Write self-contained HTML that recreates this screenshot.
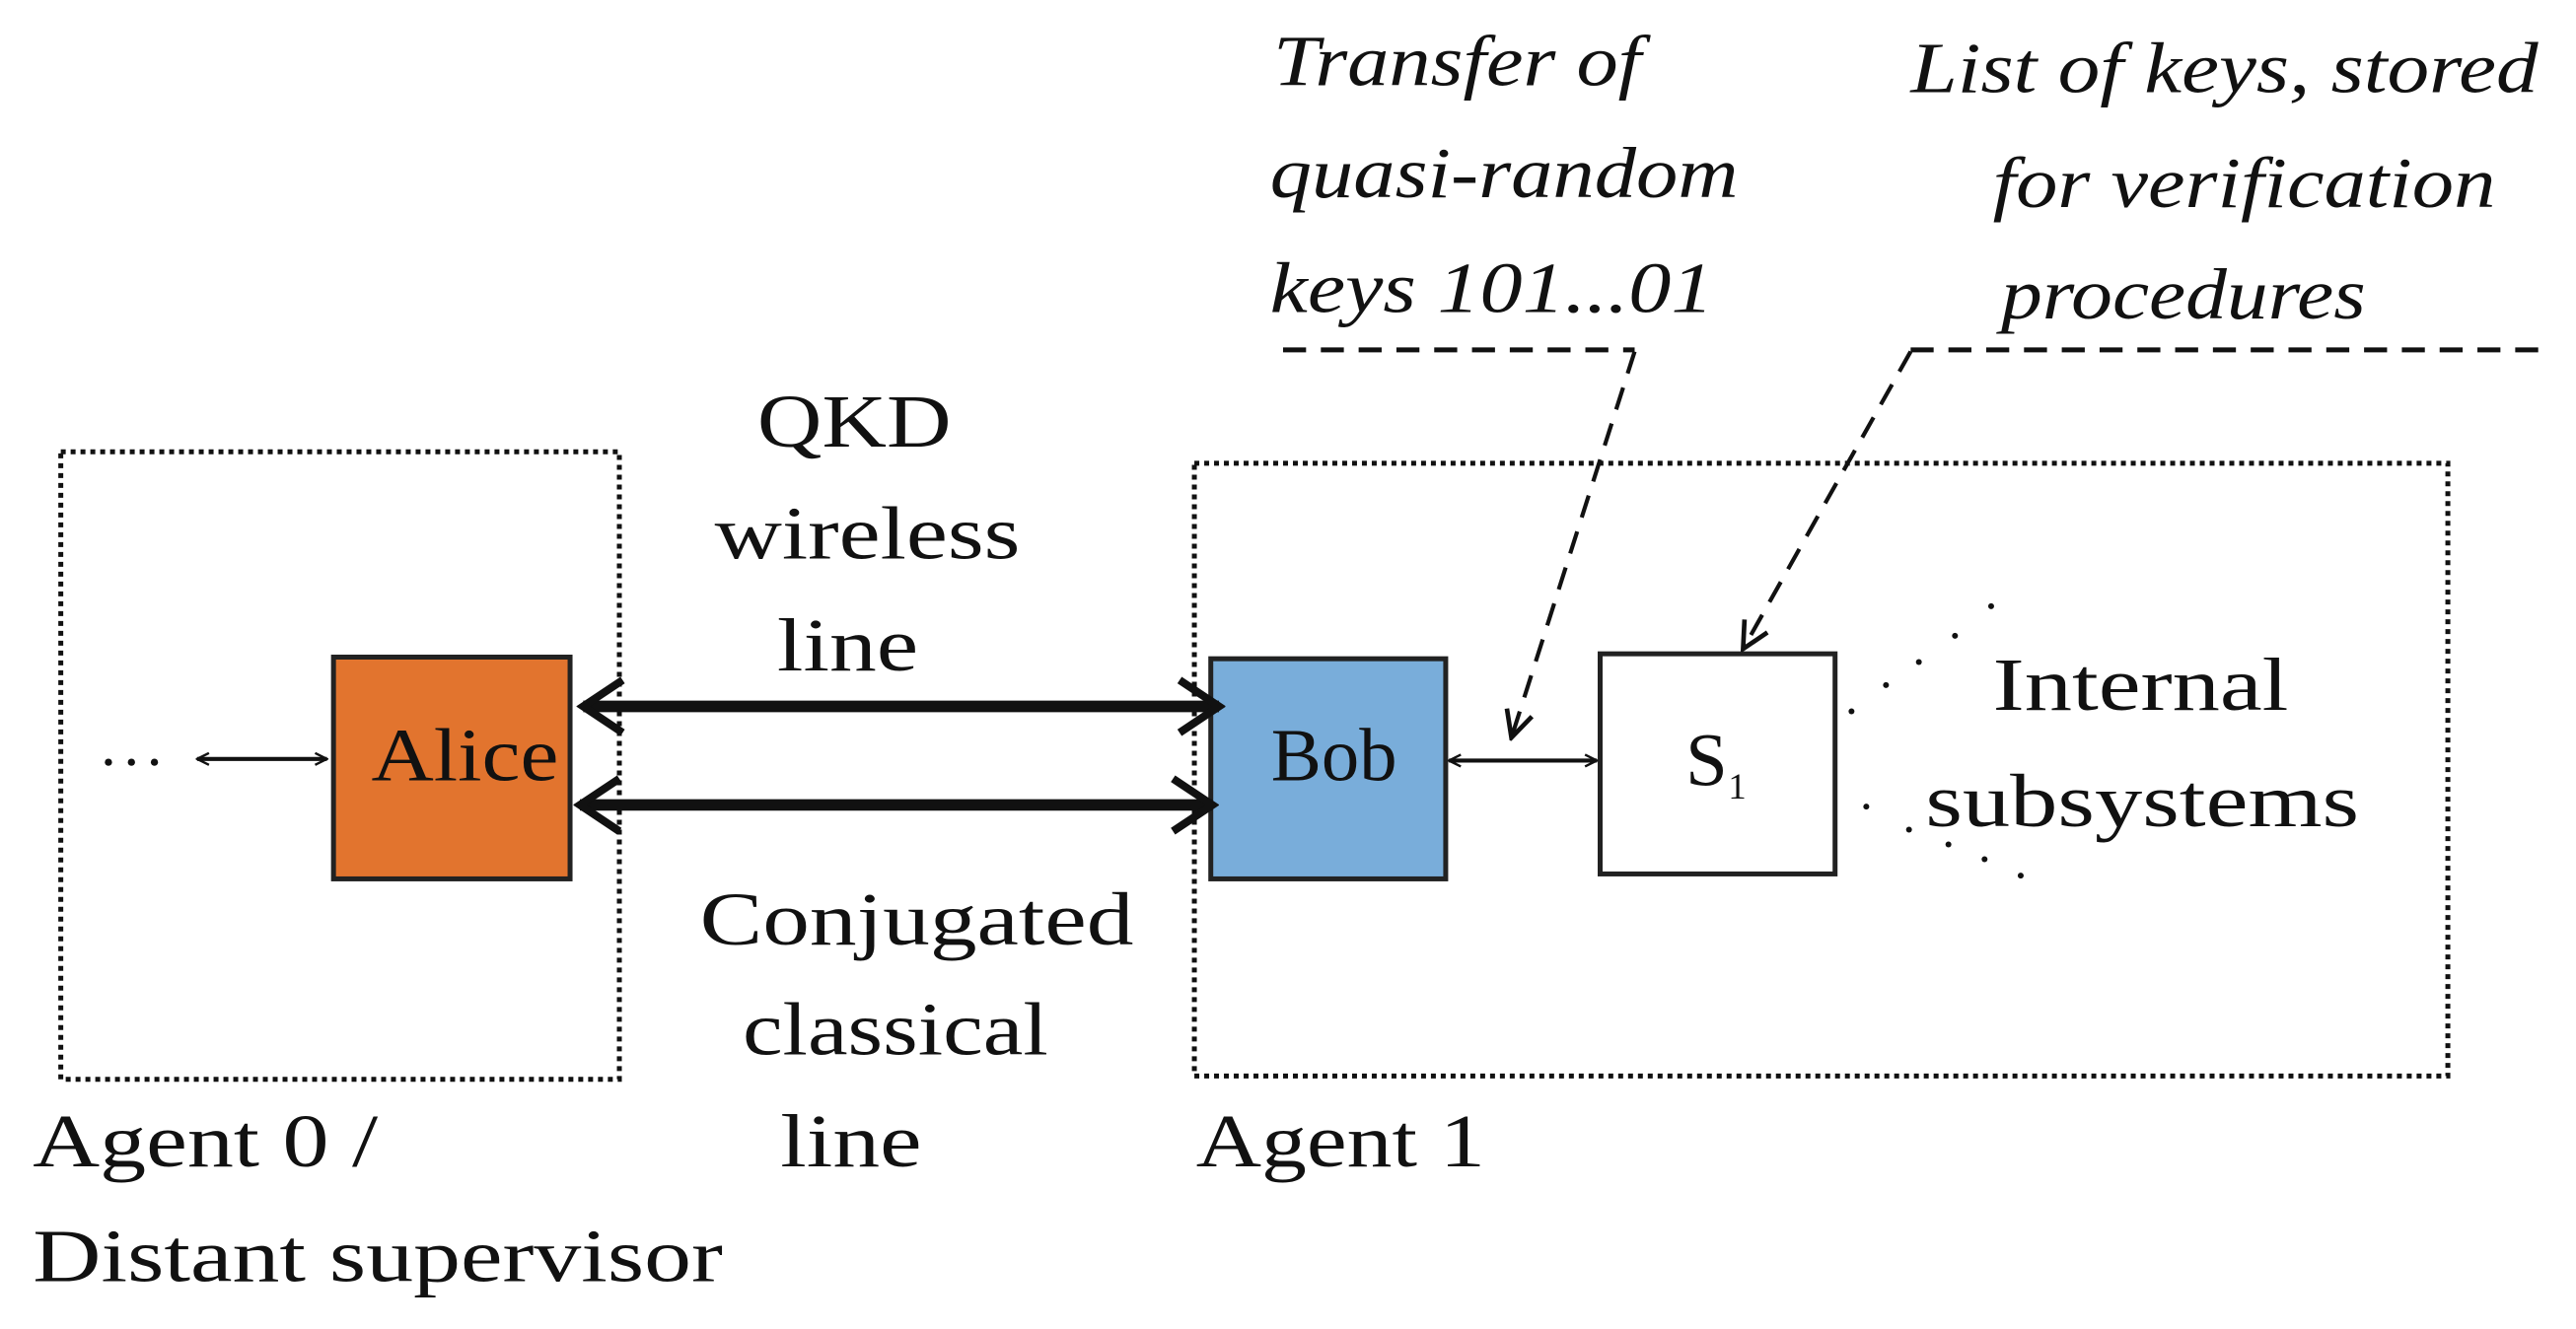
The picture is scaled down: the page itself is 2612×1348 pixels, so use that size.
<!DOCTYPE html>
<html><head><meta charset="utf-8"><style>html,body{margin:0;padding:0;background:#fff}svg{display:block}</style></head>
<body>
<svg width="2612" height="1348" viewBox="0 0 1568 809" preserveAspectRatio="none" xmlns="http://www.w3.org/2000/svg" font-family="Liberation Serif, serif" fill="#111">
<defs>
<marker id="a" viewBox="0 0 10 10" refX="9" refY="5" markerWidth="9" markerHeight="9" orient="auto-start-reverse" markerUnits="userSpaceOnUse"><path d="M1,1 L9,5 L1,9" fill="none" stroke="#111" stroke-width="1.6"/></marker>
<marker id="b" viewBox="0 0 10 10" refX="9" refY="5" markerWidth="40" markerHeight="40" orient="auto-start-reverse" markerUnits="userSpaceOnUse"><path d="M3,1 L9,5 L3,9" fill="none" stroke="#111" stroke-width="1.2"/></marker>
<marker id="c" viewBox="0 0 10 10" refX="9" refY="5" markerWidth="20" markerHeight="20" orient="auto" markerUnits="userSpaceOnUse"><path d="M1,1 L9,5 L1,9" fill="none" stroke="#111" stroke-width="1.4"/></marker>
</defs>
<g fill="none" stroke="#111" stroke-width="3" stroke-dasharray="3,3">
<rect x="37" y="275" width="340" height="382"/>
<rect x="727" y="282" width="763" height="373"/>
</g>
<rect x="203" y="400" width="144" height="135" fill="#E2742E" stroke="#222" stroke-width="3"/>
<rect x="737" y="401" width="143" height="134" fill="#79ADDA" stroke="#222" stroke-width="3"/>
<rect x="974" y="398" width="143" height="134" fill="#fff" stroke="#222" stroke-width="3"/>
<g stroke="#111" stroke-width="7" fill="none">
<line x1="355" y1="430" x2="742" y2="430" marker-start="url(#b)" marker-end="url(#b)"/>
<line x1="353" y1="490" x2="738" y2="490" marker-start="url(#b)" marker-end="url(#b)"/>
</g>
<g stroke="#111" stroke-width="2.5" fill="none">
<line x1="120" y1="462" x2="199" y2="462" marker-start="url(#a)" marker-end="url(#a)"/>
<line x1="882" y1="463" x2="972" y2="463" marker-start="url(#a)" marker-end="url(#a)"/>
</g>
<g stroke="#111" stroke-width="3" fill="none" stroke-dasharray="14,9">
<path d="M781,213 L995,213"/>
<path d="M1163,213 L1550,213"/>
</g>
<g stroke="#111" stroke-width="2.5" fill="none" stroke-dasharray="14,9">
<path d="M995,214 L920,449" marker-end="url(#c)"/>
<path d="M1163,214 L1061,395" marker-end="url(#c)"/>
</g>
<g fill="#111">
<circle cx="1127" cy="433" r="1.8"/><circle cx="1148" cy="417" r="1.8"/><circle cx="1168" cy="403" r="1.8"/><circle cx="1190" cy="387" r="1.8"/><circle cx="1212" cy="369" r="1.8"/>
<circle cx="1136" cy="491" r="1.8"/><circle cx="1162" cy="505" r="1.8"/><circle cx="1186" cy="514" r="1.8"/><circle cx="1208" cy="523" r="1.8"/><circle cx="1230" cy="533" r="1.8"/>
<circle cx="66" cy="464" r="2.2"/><circle cx="80" cy="464" r="2.2"/><circle cx="94" cy="464" r="2.2"/>
</g>
<g font-size="46">
<text x="283" y="475" text-anchor="middle" textLength="114" lengthAdjust="spacingAndGlyphs">Alice</text>
<text x="812" y="475" text-anchor="middle">Bob</text>
<text x="1026" y="478">S</text><text x="1052" y="486" font-size="22">1</text>
<text x="520" y="272" text-anchor="middle" textLength="118" lengthAdjust="spacingAndGlyphs">QKD</text>
<text x="528" y="340" text-anchor="middle" textLength="186" lengthAdjust="spacingAndGlyphs">wireless</text>
<text x="516" y="408" text-anchor="middle" textLength="86" lengthAdjust="spacingAndGlyphs">line</text>
<text x="558" y="575" text-anchor="middle" textLength="264" lengthAdjust="spacingAndGlyphs">Conjugated</text>
<text x="545" y="642" text-anchor="middle" textLength="186" lengthAdjust="spacingAndGlyphs">classical</text>
<text x="518" y="710" text-anchor="middle" textLength="86" lengthAdjust="spacingAndGlyphs">line</text>
<text x="20" y="710" textLength="210" lengthAdjust="spacingAndGlyphs">Agent 0 /</text>
<text x="20" y="780" textLength="420" lengthAdjust="spacingAndGlyphs">Distant supervisor</text>
<text x="728" y="710" textLength="176" lengthAdjust="spacingAndGlyphs">Agent 1</text>
<text x="1213" y="432" textLength="180" lengthAdjust="spacingAndGlyphs">Internal</text>
<text x="1172" y="503" textLength="264" lengthAdjust="spacingAndGlyphs">subsystems</text>
</g>
<g font-size="44" font-style="italic">
<text x="775" y="52" textLength="224" lengthAdjust="spacingAndGlyphs">Transfer of</text>
<text x="773" y="120" textLength="285" lengthAdjust="spacingAndGlyphs">quasi-random</text>
<text x="773" y="190" textLength="270" lengthAdjust="spacingAndGlyphs">keys 101...01</text>
<text x="1163" y="56" textLength="382" lengthAdjust="spacingAndGlyphs">List of keys, stored</text>
<text x="1213" y="126" textLength="306" lengthAdjust="spacingAndGlyphs">for verification</text>
<text x="1218" y="194" textLength="222" lengthAdjust="spacingAndGlyphs">procedures</text>
</g>
</svg>
</body></html>
